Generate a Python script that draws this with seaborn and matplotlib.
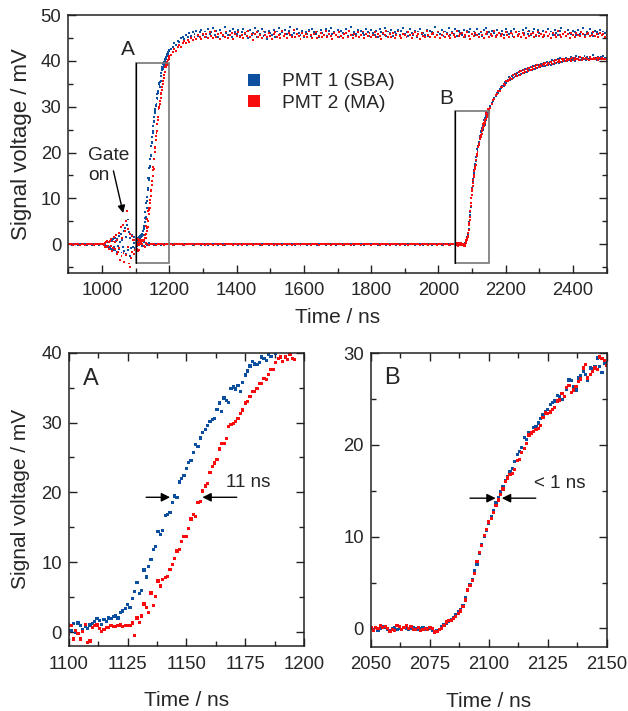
import numpy as np
import pandas as pd
import matplotlib
matplotlib.use("Agg")
import matplotlib.pyplot as plt
import seaborn as sns
from matplotlib.ticker import MultipleLocator
from matplotlib.patches import Rectangle
from matplotlib.lines import Line2D

# ---------------- data (mV), sampled on regular time grids (ns) ----------------
detectors = ["PMT 1 (SBA)", "PMT 2 (MA)"]

# Experiment A: before gate (900..995, step 5)
pre_start, pre_step = 900, 5
pre_blue = [0.0, 0.1, -0.1, 0.0, 0.1, 0.0, -0.1, 0.0, 0.1, 0.0, 0.0, -0.1, 0.1, 0.0, -0.1, 0.0, 0.1, 0.0, -0.1, 0.0]
pre_red = [0.1, 0.0, 0.0, -0.1, 0.0, 0.1, 0.0, -0.1, 0.0, 0.1, -0.1, 0.0, 0.0, 0.1, 0.0, -0.1, 0.0, 0.1, 0.0, 0.0]

# Experiment A: gate-on ringing (1000..1098, step 2)
gate_start, gate_step = 1000, 2
gate_blue = [0.0, 0.0, 0.1, 0.0, -0.1, 0.3, -0.4, 0.5, -0.3, 0.6,
             -0.8, 0.4, -0.5, 0.9, -1.0, 0.7, -1.2, 1.1, -0.6, 1.4,
             -1.3, 0.8, -1.6, 1.2, -0.4, 1.7, -1.1, 0.5, 2.2, -1.8,
             1.0, -0.7, 2.8, -1.5, 3.5, -2.2, 1.6, 4.3, 5.4, -1.2,
             2.6, -2.5, 1.4, -0.9, -1.8, 2.0, -0.6, 1.5, 0.3, -0.8]
gate_red = [0.0, 0.1, 0.0, -0.1, 0.2, -0.5, 0.4, -0.6, 0.8, -0.4,
            0.5, -1.0, 0.7, -0.3, 1.2, -1.4, 0.6, -0.9, 1.6, -1.1,
            0.5, 2.0, -2.1, 0.9, -1.7, 2.5, -0.8, -3.5, 3.8, -2.6,
            1.3, 4.2, -1.9, -3.8, 2.9, 5.0, -2.4, 7.2, -0.5, 3.4,
            -4.2, -5.0, 2.2, -3.0, 1.8, -1.6, 0.9, -2.2, 1.0, -1.2]

# Experiment A: rise (1100..1200, step 1)  -> panel A
riseA_start, riseA_step = 1100, 1
riseA_blue = [1.0, 0.2, 1.2, 0.0, 1.3, 0.9, 0.3, 0.8, 0.5, 1.0,
              1.2, 1.5, 1.9, 1.7, 1.1, 1.8, 1.5, 2.0, 1.9, 2.2,
              2.3, 2.0, 2.8, 3.0, 3.4, 3.9, 3.5, 4.8, 5.8, 7.1,
              5.5, 6.0, 8.9, 7.9, 9.4, 10.4, 11.8, 12.3, 14.4, 14.0,
              14.5, 16.7, 16.8, 17.1, 18.6, 19.5, 19.3, 21.5, 22.0, 22.4,
              23.4, 24.3, 24.6, 25.7, 26.9, 26.6, 27.8, 28.6, 29.0, 29.6,
              30.2, 30.4, 30.6, 31.9, 32.8, 31.6, 33.5, 33.2, 32.9, 34.9,
              35.1, 34.8, 35.3, 34.4, 35.7, 36.8, 37.4, 38.1, 38.7, 38.4,
              38.3, 38.6, 39.4, 39.2, 38.9, 39.8, 39.5, 40.3, 39.9, 40.5,
              40.8, 40.4, 41.2, 41.0, 41.6, 41.3, 42.0, 41.7, 42.3, 42.1, 42.4]
riseA_red = [-0.3, 0.9, -1.0, 0.2, -0.2, -1.0, 0.1, 1.1, -1.5, -1.3,
             0.6, 0.9, 1.0, 0.5, 0.1, 0.4, 0.6, 0.7, 0.9, 0.8,
             0.8, 0.9, 1.0, 0.8, 0.9, 0.9, 0.9, 1.3, -0.5, 2.0,
             1.4, 2.3, 4.0, 3.5, 2.8, 5.6, 3.8, 5.1, 7.3, 6.6,
             7.5, 7.8, 8.0, 9.0, 9.7, 10.5, 11.6, 11.8, 13.0, 13.7,
             13.7, 14.8, 16.2, 16.8, 16.5, 18.5, 18.7, 20.2, 20.9, 21.3,
             22.8, 23.7, 24.2, 24.7, 26.2, 27.0, 27.0, 27.7, 29.4, 29.7,
             29.9, 30.1, 30.6, 31.3, 31.8, 32.8, 33.0, 33.7, 34.4, 34.4,
             34.9, 35.6, 35.6, 36.3, 36.2, 36.9, 37.6, 37.6, 38.6, 39.2,
             39.4, 38.7, 39.4, 39.0, 39.7, 39.2, 39.0, 40.2, 40.5, 40.8, 41.0]

# Experiment A: plateau (1205..2500, step 5)
platA_start, platA_step = 1205, 5
platA_blue = [42.6, 43.1, 43.9, 43.5, 44.4, 44.1, 44.9, 45.3, 44.8, 45.6, 45.2, 46.1, 45.5, 46.3, 45.9, 46.6, 45.4, 46.2, 46.8, 45.7,
              46.4, 45.3, 46.9, 45.8, 46.2, 47.1, 45.6, 46.5, 45.2, 46.8, 46.0, 45.5, 47.3, 46.1, 45.7, 46.6, 45.1, 46.9, 46.3, 45.8,
              46.7, 45.4, 46.2, 47.0, 45.9, 46.4, 44.9, 46.8, 45.6, 46.1, 47.2, 45.3, 46.5, 45.8, 46.9, 45.5, 46.3, 44.8, 46.6, 46.0,
              45.7, 46.8, 45.2, 46.4, 47.1, 45.9, 46.2, 45.4, 46.7, 45.8, 46.5, 47.4, 45.6, 46.1, 45.3, 46.9, 46.0, 45.7, 46.6, 45.2,
              46.3, 45.9, 46.8, 45.5, 47.0, 46.2, 45.8, 46.4, 45.1, 46.7, 46.0, 45.6, 46.9, 45.4, 46.5, 47.2, 45.9, 46.3, 45.7, 46.8,
              45.3, 46.6, 46.1, 45.8, 46.9, 45.5, 46.4, 47.3, 45.7, 46.2, 45.9, 46.7, 45.2, 46.5, 46.0, 45.6, 47.0, 46.3, 45.4, 46.8,
              46.1, 45.7, 46.6, 45.3, 46.9, 46.2, 45.8, 47.1, 45.5, 46.4, 46.0, 46.7, 45.4, 46.3, 45.9, 46.8, 45.6, 46.5, 47.2, 45.8,
              46.2, 45.5, 46.9, 46.0, 45.7, 46.6, 45.3, 46.4, 47.0, 45.9, 46.1, 45.6, 46.8, 45.4, 46.5, 46.2, 45.8, 47.3, 45.7, 46.3,
              45.9, 46.7, 45.5, 46.4, 46.0, 47.1, 45.6, 46.3, 45.8, 46.9, 45.4, 46.6, 46.1, 45.7, 46.8, 45.3, 46.5, 46.2, 47.0, 45.9,
              46.4, 45.6, 46.9, 45.8, 46.2, 45.5, 46.7, 47.2, 45.9, 46.3, 45.7, 46.6, 46.0, 45.4, 46.8, 46.1, 45.8, 46.5, 45.6, 47.0,
              46.2, 45.9, 46.6, 45.5, 46.9, 46.3, 45.7, 46.4, 45.3, 46.8, 46.0, 47.1, 45.8, 46.5, 45.6, 46.2, 46.9, 45.4, 46.7, 46.1,
              45.8, 46.6, 45.5, 46.3, 47.0, 45.9, 46.4, 45.7, 46.8, 46.1, 45.6, 46.5, 47.2, 45.8, 46.2, 45.4, 46.7, 46.0, 45.9, 46.6,
              46.3, 45.7, 46.8, 45.9, 46.4, 47.1, 45.6, 46.2, 45.8, 46.9, 46.0, 45.5, 46.6, 46.3, 45.9, 46.7, 45.7, 46.4, 46.1, 46.5]
platA_red = [41.3, 41.9, 42.6, 42.2, 43.1, 43.5, 43.0, 43.9, 44.4, 43.8, 44.6, 44.2, 45.0, 44.5, 45.3, 44.8, 45.6, 45.1, 44.7, 45.8,
             45.2, 45.9, 44.9, 46.2, 45.4, 45.0, 46.5, 45.3, 45.8, 44.8, 46.1, 45.6, 45.2, 46.4, 45.0, 45.7, 46.0, 44.7, 45.9, 45.4,
             46.3, 45.1, 45.7, 44.9, 46.0, 45.5, 46.6, 45.2, 45.8, 44.6, 45.9, 46.2, 45.3, 45.7, 45.0, 46.4, 45.6, 45.1, 46.1, 45.4,
             44.8, 45.9, 46.3, 45.2, 45.7, 45.0, 46.5, 45.4, 45.8, 44.9, 46.1, 45.6, 45.3, 46.7, 45.1, 45.8, 45.5, 44.7, 46.0, 45.4,
             45.9, 45.2, 46.4, 45.6, 45.0, 45.8, 46.2, 44.9, 45.5, 46.1, 45.3, 45.7, 46.6, 45.1, 45.9, 45.4, 44.8, 46.0, 45.6, 45.2,
             46.3, 45.5, 45.0, 45.8, 46.1, 45.3, 46.5, 45.7, 44.9, 45.9, 45.4, 46.2, 45.1, 45.6, 46.4, 45.0, 45.8, 45.5, 46.0, 45.2,
             45.7, 46.3, 45.1, 45.9, 45.4, 44.8, 46.0, 45.6, 46.5, 45.2, 45.8, 45.3, 46.1, 45.0, 45.7, 46.4, 45.5, 44.9, 45.9, 45.6,
             45.2, 46.2, 45.7, 45.0, 45.8, 46.3, 45.4, 45.9, 44.8, 46.1, 45.5, 45.1, 46.6, 45.6, 45.3, 45.9, 46.0, 45.2, 45.7, 46.4,
             45.0, 45.6, 46.2, 45.3, 45.9, 45.5, 44.9, 46.1, 45.7, 45.2, 46.5, 45.4, 45.8, 46.0, 45.1, 45.6, 46.3, 45.5, 44.8, 45.9,
             45.4, 46.1, 45.7, 45.2, 46.4, 45.6, 45.0, 45.8, 46.2, 45.3, 45.9, 45.5, 46.6, 45.1, 45.7, 46.0, 45.4, 45.8, 44.9, 46.2,
             45.6, 45.3, 46.0, 45.8, 45.1, 46.3, 45.5, 45.9, 45.2, 46.1, 45.7, 44.9, 46.4, 45.4, 45.8, 46.0, 45.3, 45.7, 46.2, 45.5,
             45.9, 45.2, 45.7, 46.3, 45.4, 45.8, 45.0, 46.1, 45.6, 45.3, 46.5, 45.7, 45.1, 45.9, 46.2, 45.5, 45.8, 44.9, 46.0, 45.6,
             45.3, 46.1, 45.7, 45.4, 46.3, 45.8, 45.2, 45.9, 46.0, 45.5, 45.7, 46.2, 45.4, 45.8, 45.1, 46.0, 45.6, 45.9, 45.3, 45.7]

# Experiment B: baseline (1100..2045, step 5)
baseB_start, baseB_step = 1100, 5
baseB_blue = [0.5, -0.3, 0.7, 0.2, -0.4, 0.4, 0.1, -0.2, 0.3, 0.0, 0.1, -0.1, 0.0, 0.1, 0.0, -0.1, 0.0, 0.0, 0.1, 0.0,
              0.0, 0.1, 0.0, -0.1, 0.0, 0.0, 0.1, 0.0, -0.1, 0.0, 0.0, 0.1, 0.0, 0.0, -0.1, 0.0, 0.1, 0.0, 0.0, -0.1,
              0.1, 0.0, 0.0, -0.1, 0.0, 0.1, 0.0, 0.0, 0.0, -0.1, 0.0, 0.1, 0.0, -0.1, 0.0, 0.0, 0.1, 0.0, 0.0, 0.0,
              0.0, -0.1, 0.0, 0.1, 0.0, 0.0, -0.1, 0.0, 0.1, 0.0, 0.0, 0.0, 0.1, 0.0, -0.1, 0.0, 0.0, 0.1, 0.0, -0.1,
              0.0, 0.1, 0.0, 0.0, -0.1, 0.0, 0.0, 0.1, 0.0, 0.0, -0.1, 0.0, 0.1, 0.0, 0.0, -0.1, 0.0, 0.0, 0.1, 0.0,
              0.1, 0.0, -0.1, 0.0, 0.0, 0.1, 0.0, 0.0, -0.1, 0.0, 0.0, 0.1, 0.0, -0.1, 0.0, 0.1, 0.0, 0.0, 0.0, -0.1,
              0.0, 0.0, 0.1, 0.0, -0.1, 0.0, 0.1, 0.0, 0.0, 0.0, -0.1, 0.0, 0.0, 0.1, 0.0, 0.0, -0.1, 0.0, 0.1, 0.0,
              0.0, 0.1, 0.0, 0.0, -0.1, 0.0, 0.0, 0.1, 0.0, -0.1, 0.0, 0.0, 0.1, 0.0, 0.0, -0.1, 0.0, 0.1, 0.0, 0.0,
              -0.1, 0.0, 0.0, 0.1, 0.0, 0.0, -0.1, 0.0, 0.1, 0.0, 0.0, -0.1, 0.0, 0.0, 0.1, 0.0, -0.1, 0.0, 0.0, 0.1,
              0.0, 0.0, -0.1, 0.1, 0.0, 0.0, 0.1, -0.1, 0.0, 0.0]
baseB_red = [-0.4, 0.6, -0.2, 0.4, 0.1, -0.3, 0.2, 0.0, -0.1, 0.1, 0.0, 0.0, -0.1, 0.0, 0.1, 0.0, 0.0, -0.1, 0.0, 0.1,
             0.0, 0.0, -0.1, 0.0, 0.1, 0.0, 0.0, 0.0, 0.1, -0.1, 0.0, 0.0, 0.1, 0.0, 0.0, -0.1, 0.0, 0.0, 0.1, 0.0,
             0.0, -0.1, 0.0, 0.0, 0.1, 0.0, -0.1, 0.0, 0.0, 0.1, 0.0, 0.0, -0.1, 0.0, 0.0, 0.1, 0.0, 0.0, -0.1, 0.0,
             0.1, 0.0, 0.0, -0.1, 0.0, 0.0, 0.1, 0.0, 0.0, 0.0, -0.1, 0.0, 0.1, 0.0, 0.0, -0.1, 0.0, 0.0, 0.1, 0.0,
             0.0, 0.0, -0.1, 0.0, 0.1, 0.0, 0.0, -0.1, 0.0, 0.1, 0.0, 0.0, 0.0, -0.1, 0.0, 0.1, 0.0, 0.0, -0.1, 0.0,
             0.0, 0.1, 0.0, 0.0, -0.1, 0.0, 0.1, 0.0, 0.0, -0.1, 0.0, 0.0, 0.1, 0.0, 0.0, 0.0, -0.1, 0.0, 0.1, 0.0,
             0.1, 0.0, 0.0, -0.1, 0.0, 0.0, 0.1, 0.0, -0.1, 0.0, 0.0, 0.1, 0.0, 0.0, -0.1, 0.0, 0.0, 0.1, 0.0, 0.0,
             -0.1, 0.0, 0.1, 0.0, 0.0, -0.1, 0.0, 0.0, 0.1, 0.0, 0.0, -0.1, 0.0, 0.1, 0.0, 0.0, 0.0, -0.1, 0.0, 0.1,
             0.0, 0.0, -0.1, 0.0, 0.1, 0.0, 0.0, 0.1, 0.0, -0.1, 0.0, 0.0, 0.1, 0.0, -0.1, 0.0, 0.1, 0.0, 0.0, -0.1,
             0.0, 0.1, 0.0, -0.1, 0.0, 0.1, -0.1, 0.0, 0.1, 0.0]

# Experiment B: rise (2050..2150, step 1)  -> panel B
riseB_start, riseB_step = 2050, 1
riseB_blue = [0.0, -0.1, 0.1, -0.2, 0.0, 0.2, 0.1, -0.1, -0.2, 0.0,
              0.1, -0.1, 0.0, -0.1, 0.1, 0.0, -0.1, 0.0, 0.1, 0.0,
              -0.1, 0.0, 0.1, -0.1, 0.0, 0.0, -0.2, -0.3, -0.2, -0.1,
              0.2, 0.4, 0.6, 0.8, 1.0, 1.2, 1.5, 1.8, 2.1, 2.5,
              3.3, 4.1, 4.8, 5.3, 6.3, 7.0, 8.2, 9.1, 10.0, 10.7,
              11.5, 12.2, 12.8, 13.7, 14.3, 14.9, 15.5, 16.1, 16.6, 17.1,
              17.4, 18.2, 19.0, 19.3, 19.7, 20.8, 20.6, 21.3, 21.4, 21.9,
              22.0, 22.4, 22.9, 23.3, 23.6, 23.9, 24.4, 24.6, 24.8, 25.4,
              25.3, 25.0, 25.3, 26.1, 27.1, 27.0, 26.4, 26.0, 27.3, 27.6,
              28.0, 27.7, 27.1, 28.4, 28.3, 28.6, 29.5, 28.6, 27.9, 28.9, 29.0]
riseB_red = [0.1, -0.2, 0.1, 0.0, 0.3, 0.1, 0.2, 0.0, -0.3, -0.1,
             -0.2, 0.3, 0.2, -0.1, 0.1, 0.3, 0.0, 0.2, -0.1, -0.1,
             0.1, -0.2, -0.1, 0.0, -0.1, 0.1, 0.0, -0.4, -0.3, -0.1,
             0.0, 0.3, 0.7, 0.9, 0.9, 1.1, 1.3, 1.6, 1.9, 2.4,
             3.1, 4.2, 4.7, 5.2, 6.0, 7.3, 8.3, 9.0, 10.1, 10.8,
             11.6, 12.0, 12.6, 13.4, 14.0, 14.6, 15.2, 16.0, 16.4, 16.8,
             16.9, 17.3, 18.3, 18.4, 19.2, 19.6, 20.2, 21.1, 21.3, 21.5,
             21.7, 21.8, 22.1, 23.0, 23.5, 23.4, 23.6, 23.9, 24.1, 24.8,
             24.9, 25.6, 25.3, 26.3, 26.5, 25.7, 26.0, 26.4, 26.9, 27.2,
             28.4, 28.8, 27.3, 27.7, 28.0, 28.4, 28.2, 29.6, 29.4, 29.2, 28.7]

# Experiment B: slow approach (2154..2498, step 4)
tailB_start, tailB_step = 2154, 4
tailB_blue = [30.1, 30.9, 31.2, 32.0, 32.3, 33.1, 32.9, 33.9, 34.0, 34.6, 34.5, 35.4, 35.2, 35.9, 36.4, 35.8, 36.7, 36.3, 37.2, 36.6,
              37.4, 36.9, 37.7, 37.2, 38.1, 37.4, 38.3, 37.6, 38.5, 37.9, 38.7, 38.1, 38.9, 38.2, 39.0, 38.4, 39.2, 38.6, 39.4, 38.8,
              39.5, 38.9, 39.7, 39.1, 39.8, 39.2, 40.1, 39.3, 40.2, 39.5, 40.3, 39.6, 40.6, 39.8, 40.4, 39.9, 40.7, 40.0, 40.5, 40.1,
              40.9, 40.2, 40.6, 40.0, 41.1, 40.3, 40.8, 40.1, 40.7, 40.4, 41.0, 40.2, 40.9, 40.5, 40.8, 40.3, 41.2, 40.4, 40.7, 40.2,
              40.9, 40.5, 40.8, 40.3, 41.0, 40.6, 40.7]
tailB_red = [29.8, 30.6, 31.5, 31.7, 32.6, 32.8, 33.5, 33.4, 34.3, 34.2, 35.0, 34.8, 35.6, 35.5, 35.9, 36.3, 36.1, 36.9, 36.5, 37.1,
             36.8, 37.5, 37.0, 37.8, 37.3, 37.9, 37.6, 38.2, 37.8, 38.4, 38.0, 38.6, 38.3, 38.8, 38.5, 39.0, 38.6, 39.2, 38.8, 39.3,
             39.0, 39.5, 39.1, 39.6, 39.3, 39.8, 39.4, 39.9, 39.6, 40.1, 39.7, 40.2, 39.8, 40.3, 39.9, 40.4, 40.0, 40.5, 40.1, 40.4,
             40.0, 40.6, 40.2, 40.7, 40.3, 40.5, 40.1, 40.8, 40.2, 40.6, 40.3, 40.7, 40.4, 40.2, 40.8, 40.5, 40.3, 40.7, 40.4, 40.6,
             40.2, 40.7, 40.4, 40.6, 40.3, 40.5, 40.4]

# ---------------- assemble ----------------
def seg(start, step, values, det):
    t = start + step * np.arange(len(values))
    return pd.DataFrame({"t": t, "v": values, "det": det})

blue_segs = [(pre_start, pre_step, pre_blue), (gate_start, gate_step, gate_blue),
             (riseA_start, riseA_step, riseA_blue), (platA_start, platA_step, platA_blue),
             (baseB_start, baseB_step, baseB_blue), (riseB_start, riseB_step, riseB_blue),
             (tailB_start, tailB_step, tailB_blue)]
red_segs = [(pre_start, pre_step, pre_red), (gate_start, gate_step, gate_red),
            (riseA_start, riseA_step, riseA_red), (platA_start, platA_step, platA_red),
            (baseB_start, baseB_step, baseB_red), (riseB_start, riseB_step, riseB_red),
            (tailB_start, tailB_step, tailB_red)]
top = pd.concat([seg(*s, detectors[0]) for s in blue_segs] +
                [seg(*s, detectors[1]) for s in red_segs], ignore_index=True)
dfA = pd.concat([seg(riseA_start, riseA_step, riseA_blue, detectors[0]),
                 seg(riseA_start, riseA_step, riseA_red, detectors[1])], ignore_index=True)
dfB = pd.concat([seg(riseB_start, riseB_step, riseB_blue, detectors[0]),
                 seg(riseB_start, riseB_step, riseB_red, detectors[1])], ignore_index=True)

BLUE = "#0b4f9e"
RED = "#f70d0d"
palette = {detectors[0]: BLUE, detectors[1]: RED}

# ---------------- style ----------------
sns.set_theme(style="ticks")
plt.rcParams["font.family"] = ["Liberation Sans", "DejaVu Sans"]
plt.rcParams["axes.linewidth"] = 1.1
plt.rcParams["axes.edgecolor"] = "#222222"

fig = plt.figure(figsize=(6.28, 7.11), dpi=100)
ax0 = fig.add_axes([0.1088, 0.6165, 0.8573, 0.3624])
axA = fig.add_axes([0.1094, 0.0914, 0.3747, 0.4125])
axB = fig.add_axes([0.5908, 0.0904, 0.3753, 0.4127])

TICK_FS = 13.3
LABEL_FS = 15

def style_axis(ax, top_ticks):
    ax.tick_params(which="both", direction="in", right=True, top=top_ticks,
                   labelsize=TICK_FS, width=1.0, color="#222222")
    ax.tick_params(which="major", length=5.5, pad=5)
    ax.tick_params(which="minor", length=3.5)
    ax.tick_params(axis="x", which="major", pad=7)

# ---- top panel ----
sns.scatterplot(data=top, x="t", y="v", hue="det", palette=palette, marker="s",
                s=2.0, linewidth=0, legend=False, ax=ax0)
ax0.set_xlim(900, 2500)
ax0.set_ylim(-6.2, 50)
ax0.xaxis.set_major_locator(MultipleLocator(200))
ax0.xaxis.set_minor_locator(MultipleLocator(100))
ax0.yaxis.set_major_locator(MultipleLocator(10))
ax0.yaxis.set_minor_locator(MultipleLocator(5))
style_axis(ax0, top_ticks=False)
ax0.set_xlabel("Time / ns", fontsize=LABEL_FS, labelpad=6)
ax0.set_ylabel("Signal voltage / mV", fontsize=LABEL_FS + 1, labelpad=6)

for (x0, x1, y0, y1) in [(1100, 1200, -4.0, 39.5), (2050, 2150, -4.0, 29.0)]:
    ax0.add_patch(Rectangle((x0, y0), x1 - x0, y1 - y0, fill=False,
                            edgecolor="#777777", linewidth=1.2, zorder=5))
    ax0.plot([x0, x0], [y0, y1], color="black", linewidth=0.9, zorder=6)

ax0.text(1078, 42.4, "A", fontsize=15, ha="center", va="center")
ax0.text(2024, 31.8, "B", fontsize=15, ha="center", va="center")
ax0.text(959, 17.2, "Gate\non", fontsize=13.8, ha="left", va="center", linespacing=1.25)
ax0.annotate("", xy=(1063, 6.8), xytext=(1034, 16.0),
             arrowprops=dict(arrowstyle="-|>", color="black", lw=1.0, mutation_scale=11,
                             shrinkA=0, shrinkB=0))

handles = [Line2D([], [], marker="s", linestyle="none", markersize=8.5,
                  markerfacecolor=c, markeredgewidth=0) for c in (BLUE, RED)]
ax0.legend(handles, detectors, loc="upper left", bbox_to_anchor=(0.327, 0.775),
           frameon=False, fontsize=13.8, handlelength=1.0, handletextpad=0.95,
           labelspacing=0.22, borderpad=0, borderaxespad=0)

# ---- panel A ----
sns.scatterplot(data=dfA, x="t", y="v", hue="det", palette=palette, marker="s",
                s=5.5, linewidth=0, legend=False, ax=axA)
axA.set_xlim(1100, 1200)
axA.set_ylim(-2, 40)
axA.xaxis.set_major_locator(MultipleLocator(25))
axA.xaxis.set_minor_locator(MultipleLocator(12.5))
axA.yaxis.set_major_locator(MultipleLocator(10))
axA.yaxis.set_minor_locator(MultipleLocator(5))
style_axis(axA, top_ticks=True)
axA.set_xlabel("Time / ns", fontsize=LABEL_FS, labelpad=13)
axA.set_ylabel("Signal voltage / mV", fontsize=LABEL_FS, labelpad=8)
axA.text(1109.3, 36.2, "A", fontsize=17, ha="center", va="center")
arrow_kw = dict(arrowstyle="-|>", color="black", lw=1.0, mutation_scale=13,
                shrinkA=0, shrinkB=0)
axA.annotate("", xy=(1143.1, 19.3), xytext=(1132.9, 19.3), arrowprops=arrow_kw)
axA.annotate("", xy=(1156.8, 19.3), xytext=(1171.4, 19.3), arrowprops=arrow_kw)
axA.text(1176.2, 21.4, "11 ns", fontsize=13.5, ha="center", va="center")

# ---- panel B ----
sns.scatterplot(data=dfB, x="t", y="v", hue="det", palette=palette, marker="s",
                s=5.5, linewidth=0, legend=False, ax=axB)
axB.set_xlim(2050, 2150)
axB.set_ylim(-2, 30)
axB.xaxis.set_major_locator(MultipleLocator(25))
axB.xaxis.set_minor_locator(MultipleLocator(12.5))
axB.yaxis.set_major_locator(MultipleLocator(10))
axB.yaxis.set_minor_locator(MultipleLocator(5))
style_axis(axB, top_ticks=True)
axB.set_xlabel("Time / ns", fontsize=LABEL_FS, labelpad=13)
axB.set_ylabel("")
axB.text(2059, 27.3, "B", fontsize=17, ha="center", va="center")
axB.annotate("", xy=(2102.9, 14.2), xytext=(2092.0, 14.2), arrowprops=arrow_kw)
axB.annotate("", xy=(2105.5, 14.2), xytext=(2119.9, 14.2), arrowprops=arrow_kw)
axB.text(2130.2, 15.8, "< 1 ns", fontsize=13.5, ha="center", va="center")

fig.savefig("out.png", dpi=100)
